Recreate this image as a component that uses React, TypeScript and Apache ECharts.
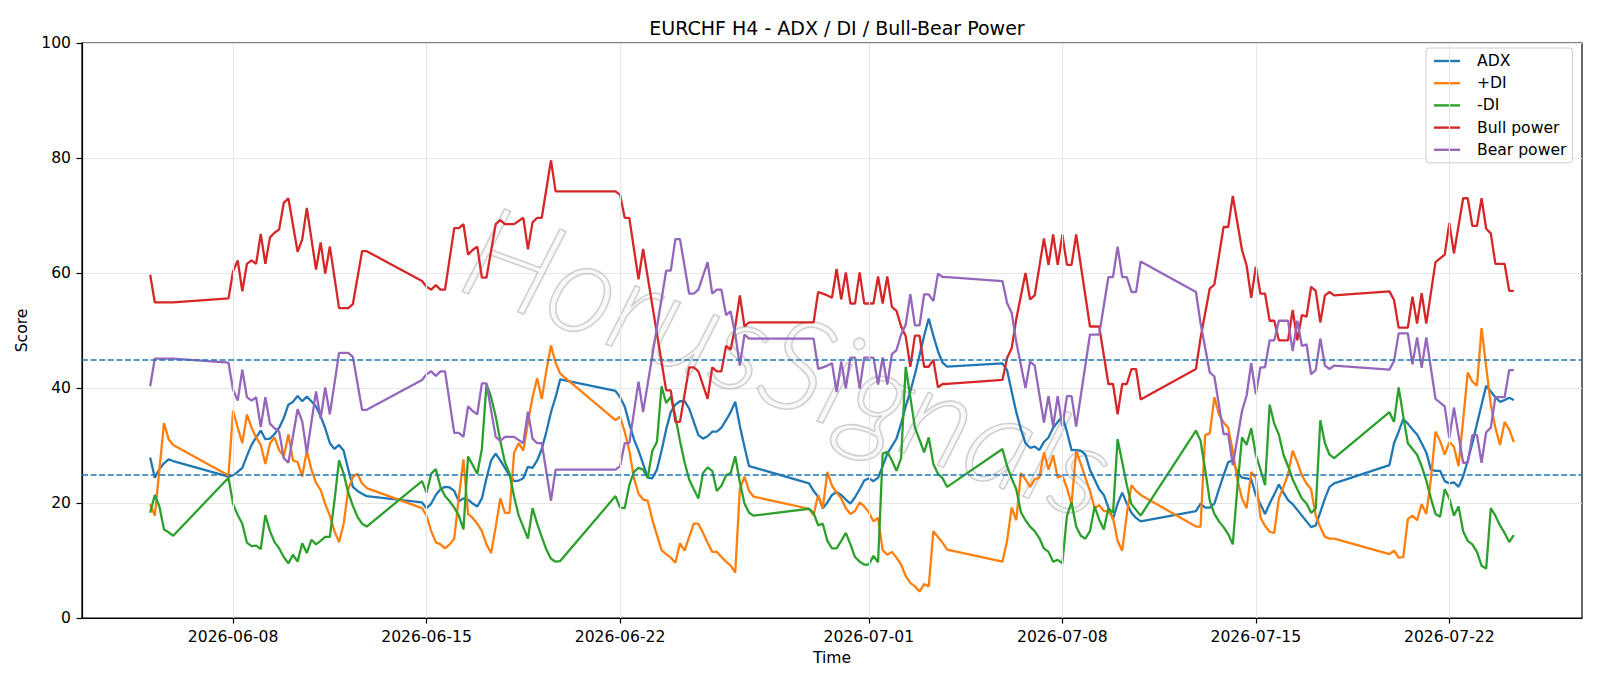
import React, { useEffect, useRef } from 'react';
import * as echarts from 'echarts';

const TITLE = 'EURCHF H4 - ADX / DI / Bull-Bear Power';
// x values are hours since 2026-06-05 00:00
const tickHours = [72, 240, 408, 624, 792, 960, 1128];
const tickLabels = ['2026-06-08', '2026-06-15', '2026-06-22', '2026-07-01', '2026-07-08', '2026-07-15', '2026-07-22'];
const yTicks = [0, 20, 40, 60, 80, 100];
const thresholds = [25, 45];

const adx = [[0,27.9],[4,24.4],[8,25.9],[12,26.9],[16,27.6],[20,27.3],[68,24.6],[72,24.8],[76,25.4],[80,26.1],[84,28.2],[88,30.1],[92,31.4],[96,32.6],[100,31.1],[104,31.2],[108,32.0],[112,33.1],[116,34.8],[120,37.1],[124,37.6],[128,38.6],[132,37.7],[136,38.5],[140,37.7],[144,36.8],[148,35.1],[152,33.0],[156,30.4],[160,29.4],[164,30.1],[168,29.1],[172,25.8],[176,22.8],[180,22.1],[184,21.6],[188,21.2],[236,20.1],[240,19.1],[244,19.9],[248,21.4],[252,22.4],[256,22.8],[260,22.7],[264,22.1],[268,20.3],[272,20.8],[276,20.6],[280,19.9],[284,19.4],[288,20.8],[292,24.3],[296,27.4],[300,28.6],[304,27.4],[308,26.1],[312,24.8],[316,23.8],[320,23.9],[324,24.3],[328,26.3],[332,26.1],[336,27.4],[340,29.4],[344,32.4],[348,35.8],[352,38.4],[356,41.5],[404,39.5],[408,38.4],[412,36.8],[416,33.8],[420,31.1],[424,29.1],[428,26.8],[432,24.4],[436,24.3],[440,25.8],[444,29.1],[448,32.8],[452,35.8],[456,37.1],[460,37.7],[464,37.7],[468,36.4],[472,34.1],[476,31.8],[480,31.2],[484,31.6],[488,32.4],[492,32.4],[496,33.1],[500,34.4],[504,35.8],[508,37.6],[512,33.4],[516,29.8],[520,26.4],[524,26.2],[572,23.4],[576,22.1],[580,21.1],[584,19.1],[588,20.1],[592,21.4],[596,21.9],[600,21.4],[604,20.6],[608,19.9],[612,21.0],[616,22.4],[620,23.9],[624,24.3],[628,23.8],[632,24.4],[636,26.4],[640,28.6],[644,29.9],[648,31.2],[652,33.8],[656,36.8],[660,39.4],[664,42.4],[668,45.7],[672,49.1],[676,52.1],[680,49.1],[684,46.4],[688,44.4],[692,43.7],[740,44.3],[744,43.1],[748,39.4],[752,35.8],[756,32.8],[760,30.4],[764,29.6],[768,29.8],[772,29.2],[776,30.6],[780,31.4],[784,33.1],[788,34.1],[792,35.1],[796,32.4],[800,29.2],[804,29.2],[808,29.1],[812,28.4],[816,25.8],[820,24.1],[824,22.4],[828,21.4],[832,19.2],[836,17.2],[840,19.9],[844,21.8],[848,19.9],[852,18.3],[856,17.4],[860,16.8],[908,18.6],[912,19.9],[916,19.2],[920,19.2],[924,19.9],[928,22.4],[932,24.8],[936,27.1],[940,27.4],[944,25.4],[948,24.4],[952,24.3],[956,24.1],[960,21.4],[964,19.8],[968,18.1],[972,19.9],[976,21.5],[980,23.2],[984,21.8],[988,20.5],[992,19.8],[996,18.8],[1000,17.8],[1004,16.8],[1008,15.8],[1012,16.1],[1016,18.4],[1020,20.8],[1024,22.8],[1028,23.4],[1076,26.6],[1080,30.4],[1084,32.4],[1088,34.6],[1092,33.8],[1096,32.8],[1100,31.9],[1104,30.4],[1108,28.8],[1112,25.8],[1116,25.6],[1120,25.6],[1124,23.8],[1128,23.4],[1132,23.6],[1136,22.8],[1140,24.6],[1144,27.4],[1148,30.4],[1152,33.8],[1156,37.1],[1160,40.4],[1164,39.4],[1168,38.4],[1172,37.6],[1176,37.9],[1180,38.3],[1184,37.9]];

const plusDI = [[0,19.8],[4,17.8],[8,25.8],[12,33.9],[16,31.1],[20,30.1],[68,24.8],[72,36.1],[76,33.1],[80,30.4],[84,35.4],[88,33.1],[92,31.4],[96,30.1],[100,26.8],[104,30.4],[108,31.4],[112,29.2],[116,28.1],[120,31.9],[124,27.4],[128,27.1],[132,24.6],[136,29.1],[140,25.8],[144,23.5],[148,22.3],[152,19.8],[156,17.8],[160,15.1],[164,13.2],[168,16.4],[172,22.4],[176,24.5],[180,25.1],[184,23.4],[188,22.6],[236,19.1],[240,17.8],[244,15.1],[248,13.2],[252,12.8],[256,12.1],[260,12.8],[264,13.8],[268,21.0],[272,27.6],[276,18.1],[280,17.4],[284,16.4],[288,15.1],[292,12.8],[296,11.3],[300,15.8],[304,20.8],[308,18.3],[312,18.3],[316,28.8],[320,30.4],[324,29.1],[328,34.0],[332,38.4],[336,41.7],[340,38.1],[344,43.0],[348,47.4],[352,44.4],[356,42.5],[404,34.4],[408,35.0],[412,32.4],[416,29.1],[420,24.4],[424,21.6],[428,20.6],[432,20.4],[436,17.1],[440,14.4],[444,11.8],[448,11.1],[452,10.5],[456,9.6],[460,13.0],[464,11.7],[468,14.1],[472,16.4],[476,16.4],[480,14.8],[484,13.1],[488,11.5],[492,11.5],[496,10.6],[500,9.8],[504,9.1],[508,7.9],[512,22.4],[516,24.6],[520,22.1],[524,21.1],[572,19.0],[576,17.9],[580,21.4],[584,19.1],[588,25.4],[592,23.0],[596,21.8],[600,20.8],[604,19.1],[608,18.1],[612,18.6],[616,20.1],[620,19.4],[624,18.4],[628,16.8],[632,17.4],[636,11.8],[640,11.0],[644,11.5],[648,10.5],[652,9.3],[656,7.3],[660,6.1],[664,5.5],[668,4.6],[672,5.9],[676,5.5],[680,15.1],[684,14.1],[688,13.1],[692,11.9],[740,9.8],[744,13.4],[748,19.2],[752,17.0],[756,25.2],[760,24.1],[764,22.8],[768,24.1],[772,24.4],[776,28.8],[780,25.8],[784,28.3],[788,24.4],[792,24.8],[796,22.6],[800,19.8],[804,29.1],[808,26.8],[812,24.4],[816,22.1],[820,19.1],[824,19.6],[828,18.6],[832,18.6],[836,17.4],[840,13.4],[844,11.7],[848,18.1],[852,23.1],[856,22.1],[860,21.4],[908,15.9],[912,15.9],[916,31.8],[920,32.1],[924,38.4],[928,35.4],[932,34.0],[936,33.1],[940,29.0],[944,24.0],[948,20.8],[952,19.1],[956,25.4],[960,24.4],[964,17.5],[968,16.0],[972,15.0],[976,14.8],[980,20.8],[984,22.8],[988,25.0],[992,29.1],[996,27.1],[1000,24.8],[1004,23.4],[1008,22.4],[1012,17.8],[1016,15.8],[1020,14.1],[1024,13.8],[1028,13.8],[1076,11.1],[1080,11.7],[1084,10.5],[1088,10.6],[1092,17.2],[1096,17.8],[1100,17.0],[1104,19.8],[1108,18.1],[1112,24.1],[1116,32.4],[1120,30.8],[1124,28.4],[1128,30.6],[1132,29.8],[1136,26.4],[1140,34.4],[1144,42.7],[1148,41.1],[1152,40.4],[1156,50.4],[1160,43.7],[1164,37.1],[1168,33.1],[1172,30.1],[1176,34.1],[1180,32.8],[1184,30.6]];

const minusDI = [[0,18.3],[4,21.4],[8,19.4],[12,15.4],[16,14.9],[20,14.3],[68,24.4],[72,19.8],[76,17.9],[80,16.4],[84,13.1],[88,12.5],[92,12.6],[96,12.0],[100,17.9],[104,15.1],[108,13.2],[112,12.1],[116,10.6],[120,9.5],[124,11.0],[128,9.8],[132,13.0],[136,11.3],[140,13.6],[144,12.8],[148,13.4],[152,14.1],[156,14.1],[160,20.4],[164,27.4],[168,25.1],[172,21.8],[176,19.5],[180,17.6],[184,16.4],[188,15.9],[236,23.8],[240,21.8],[244,25.1],[248,25.9],[252,22.8],[256,21.2],[260,20.3],[264,19.2],[268,17.8],[272,15.4],[276,28.1],[280,26.6],[284,25.1],[288,29.4],[292,40.7],[296,38.4],[300,35.1],[304,30.8],[308,27.1],[312,25.1],[316,21.1],[320,17.8],[324,15.8],[328,13.8],[332,19.1],[336,16.4],[340,14.1],[344,11.9],[348,10.3],[352,9.8],[356,9.9],[404,21.2],[408,19.2],[412,19.1],[416,23.1],[420,25.4],[424,26.1],[428,25.8],[432,24.4],[436,29.1],[440,30.6],[444,40.3],[448,37.4],[452,38.5],[456,35.1],[460,30.8],[464,27.1],[468,24.1],[472,22.4],[476,20.8],[480,25.2],[484,26.2],[488,25.6],[492,22.1],[496,23.0],[500,24.8],[504,25.2],[508,28.1],[512,23.6],[516,19.9],[520,18.3],[524,17.8],[572,19.0],[576,18.3],[580,16.1],[584,16.4],[588,13.4],[592,12.1],[596,12.1],[600,13.4],[604,14.8],[608,12.8],[612,10.6],[616,9.8],[620,9.3],[624,9.3],[628,10.8],[632,9.7],[636,28.6],[640,28.9],[644,27.4],[648,25.6],[652,27.8],[656,43.7],[660,38.4],[664,33.1],[668,31.0],[672,28.8],[676,31.4],[680,26.8],[684,25.1],[688,24.3],[692,22.8],[740,29.4],[744,26.4],[748,24.3],[752,22.4],[756,18.4],[760,17.0],[764,15.9],[768,15.1],[772,13.9],[776,12.1],[780,11.5],[784,9.8],[788,10.1],[792,9.5],[796,17.8],[800,20.1],[804,15.9],[808,14.3],[812,13.8],[816,15.1],[820,19.4],[824,17.1],[828,15.4],[832,19.1],[836,18.3],[840,31.1],[844,27.1],[848,23.1],[852,19.8],[856,18.8],[860,17.8],[908,32.6],[912,30.8],[916,25.8],[920,20.4],[924,18.1],[928,16.8],[932,15.8],[936,14.6],[940,12.8],[944,22.8],[948,31.4],[952,30.1],[956,33.0],[960,28.4],[964,25.8],[968,23.1],[972,37.1],[976,33.8],[980,31.9],[984,28.4],[988,26.4],[992,24.1],[996,22.4],[1000,20.8],[1004,19.9],[1008,18.3],[1012,19.0],[1016,34.4],[1020,30.4],[1024,28.4],[1028,27.8],[1076,35.8],[1080,34.1],[1084,40.1],[1088,35.1],[1092,30.4],[1096,29.4],[1100,28.4],[1104,26.4],[1108,23.9],[1112,20.8],[1116,18.1],[1120,17.6],[1124,22.4],[1128,20.8],[1132,17.8],[1136,19.4],[1140,15.1],[1144,13.4],[1148,12.8],[1152,11.5],[1156,9.1],[1160,8.6],[1164,19.1],[1168,17.8],[1172,16.1],[1176,14.8],[1180,13.2],[1184,14.4]];

const bullPower = [[0,59.7],[4,54.9],[20,54.9],[68,55.6],[72,60.3],[76,62.2],[80,56.8],[84,61.6],[88,62.2],[92,61.6],[96,66.8],[100,61.6],[104,66.2],[108,67.0],[112,67.6],[116,72.2],[120,73.0],[128,63.7],[132,65.8],[136,71.3],[144,60.6],[148,65.3],[152,59.9],[156,64.6],[164,53.9],[172,53.9],[176,54.6],[184,63.8],[188,63.8],[236,58.6],[240,57.6],[244,57.1],[248,57.9],[252,57.1],[256,57.1],[264,67.8],[268,67.8],[272,68.5],[276,63.2],[280,64.0],[284,64.6],[288,59.2],[292,59.2],[300,68.5],[304,69.2],[308,68.5],[316,68.5],[324,69.6],[328,64.1],[332,68.8],[336,69.6],[340,69.6],[348,79.6],[352,74.2],[404,74.2],[408,73.6],[412,69.6],[416,69.6],[424,58.9],[428,64.2],[448,39.6],[452,39.6],[456,34.1],[460,34.1],[468,43.6],[472,43.6],[476,42.9],[484,38.1],[488,43.6],[492,42.9],[496,42.9],[500,47.3],[504,46.7],[508,50.7],[512,56.1],[516,50.7],[520,51.4],[576,51.4],[580,56.7],[584,56.4],[588,56.1],[592,55.7],[596,60.7],[600,55.4],[604,60.1],[608,54.7],[612,54.7],[616,60.1],[620,54.7],[624,54.7],[628,54.7],[632,59.4],[636,54.7],[640,59.4],[644,54.1],[648,53.4],[652,50.7],[656,49.0],[660,43.7],[664,49.1],[668,49.1],[672,43.7],[676,43.7],[680,44.9],[684,40.1],[688,40.7],[692,40.7],[740,41.4],[744,45.2],[748,46.9],[752,52.0],[756,56.0],[760,60.0],[764,55.4],[768,56.1],[776,66.0],[780,61.4],[784,66.7],[788,61.4],[792,66.7],[796,61.4],[800,61.4],[804,66.7],[816,50.7],[824,50.7],[832,40.7],[836,40.7],[840,35.4],[844,40.7],[848,40.7],[852,43.3],[856,43.3],[860,38.0],[908,43.3],[912,48.7],[920,57.3],[924,58.0],[932,68.0],[936,68.0],[940,73.4],[948,64.0],[952,61.3],[956,55.7],[960,61.1],[964,56.4],[968,56.4],[972,51.7],[976,51.7],[980,48.3],[988,48.3],[992,53.6],[996,48.3],[1000,52.7],[1004,52.4],[1008,57.6],[1012,56.9],[1016,51.4],[1020,56.1],[1024,56.7],[1028,56.1],[1076,56.8],[1080,55.3],[1084,50.5],[1092,50.5],[1096,55.9],[1100,51.2],[1104,56.5],[1108,51.2],[1116,61.9],[1124,63.2],[1128,68.7],[1132,63.4],[1140,73.0],[1144,73.0],[1148,68.2],[1152,68.2],[1156,73.0],[1160,67.7],[1164,66.9],[1168,61.6],[1176,61.6],[1180,56.9],[1184,56.9]];

const bearPower = [[0,40.3],[4,45.1],[20,45.1],[68,44.4],[72,39.7],[76,37.8],[80,43.2],[84,38.4],[88,37.8],[92,38.4],[96,33.2],[100,38.4],[104,33.8],[108,33.0],[112,32.4],[116,27.8],[120,27.0],[128,36.3],[132,34.2],[136,28.7],[144,39.4],[148,34.7],[152,40.1],[156,35.4],[164,46.1],[172,46.1],[176,45.4],[184,36.2],[188,36.2],[236,41.4],[240,42.4],[244,42.9],[248,42.1],[252,42.9],[256,42.9],[264,32.2],[268,32.2],[272,31.5],[276,36.8],[280,36.0],[284,35.4],[288,40.8],[292,40.8],[300,31.5],[304,30.8],[308,31.5],[316,31.5],[324,30.4],[328,35.9],[332,31.2],[336,30.4],[340,30.4],[348,20.4],[352,25.8],[404,25.8],[408,26.4],[412,30.4],[416,30.4],[424,41.1],[428,35.8],[448,60.4],[452,60.4],[456,65.9],[460,65.9],[468,56.4],[472,56.4],[476,57.1],[484,61.9],[488,56.4],[492,57.1],[496,57.1],[500,52.7],[504,53.3],[508,49.3],[512,43.9],[516,49.3],[520,48.6],[576,48.6],[580,43.3],[584,43.6],[588,43.9],[592,44.3],[596,39.3],[600,44.6],[604,39.9],[608,45.3],[612,45.3],[616,39.9],[620,45.3],[624,45.3],[628,45.3],[632,40.6],[636,45.3],[640,40.6],[644,45.9],[648,46.6],[652,49.3],[656,51.0],[660,56.3],[664,50.9],[668,50.9],[672,56.3],[676,56.3],[680,55.1],[684,59.9],[688,59.3],[692,59.3],[740,58.6],[744,54.8],[748,53.1],[752,48.0],[756,44.0],[760,40.0],[764,44.6],[768,43.9],[776,34.0],[780,38.6],[784,33.3],[788,38.6],[792,33.3],[796,38.6],[800,38.6],[804,33.3],[816,49.3],[824,49.3],[832,59.3],[836,59.3],[840,64.6],[844,59.3],[848,59.3],[852,56.7],[856,56.7],[860,62.0],[908,56.7],[912,51.3],[920,42.7],[924,42.0],[932,32.0],[936,32.0],[940,26.6],[948,36.0],[952,38.7],[956,44.3],[960,38.9],[964,43.6],[968,43.6],[972,48.3],[976,48.3],[980,51.7],[988,51.7],[992,46.4],[996,51.7],[1000,47.3],[1004,47.6],[1008,42.4],[1012,43.1],[1016,48.6],[1020,43.9],[1024,43.3],[1028,43.9],[1076,43.2],[1080,44.7],[1084,49.5],[1092,49.5],[1096,44.1],[1100,48.8],[1104,43.5],[1108,48.8],[1116,38.1],[1124,36.8],[1128,31.3],[1132,36.6],[1140,27.0],[1144,27.0],[1148,31.8],[1152,31.8],[1156,27.0],[1160,32.3],[1164,33.1],[1168,38.4],[1176,38.4],[1180,43.1],[1184,43.1]];

const seriesDefs = [
  { name: 'ADX', data: adx, color: '#1f77b4' },
  { name: '+DI', data: plusDI, color: '#ff7f0e' },
  { name: '-DI', data: minusDI, color: '#2ca02c' },
  { name: 'Bull power', data: bullPower, color: '#d62728' },
  { name: 'Bear power', data: bearPower, color: '#9467bd' },
];

const FONT = 'DejaVu Sans';

export default function App() {
  const ref = useRef<HTMLDivElement>(null);
  useEffect(() => {
    if (!ref.current) return;
    const chart = echarts.init(ref.current, null, { renderer: 'svg' });
    const lines = seriesDefs.map((s) => ({
      name: s.name,
      type: 'line',
      data: s.data,
      symbol: 'none',
      showSymbol: false,
      lineStyle: { color: s.color, width: 2.3 },
      itemStyle: { color: s.color },
      z: 3,
    }));
    chart.setOption({
      animation: false,
      backgroundColor: '#ffffff',
      title: {
        text: TITLE,
        left: 832,
        textAlign: 'center',
        top: 13,
        textStyle: { fontFamily: FONT, fontSize: 19, fontWeight: 'normal', color: '#000' },
      },
      legend: {
        data: seriesDefs.map((s) => s.name),
        orient: 'vertical',
        left: 1426,
        top: 48,
        icon: 'rect',
        itemWidth: 26,
        itemHeight: 2.4,
        itemGap: 4.2,
        padding: [4, 6, 4, 8],
        backgroundColor: 'rgba(255,255,255,0.8)',
        borderColor: '#cccccc',
        borderWidth: 1,
        borderRadius: 3,
        textStyle: { fontFamily: FONT, fontSize: 15.6, color: '#000', lineHeight: 18, padding: [0, 0, 0, 12] },
      },
      grid: {
        left: 82,
        top: 43,
        width: 1500,
        height: 575,
        show: true,
        borderColor: '#000',
        borderWidth: 1.2,
        backgroundColor: 'transparent',
      },
      xAxis: {
        type: 'value',
        min: -59.2,
        max: 1243.2,
        name: 'Time',
        nameLocation: 'middle',
        nameGap: 30,
        nameTextStyle: { fontFamily: FONT, fontSize: 15.6, color: '#000' },
        axisLine: { show: true, onZero: false, lineStyle: { color: '#000', width: 1.2 } },
        axisTick: { show: true, customValues: tickHours, length: 5.5, lineStyle: { color: '#000', width: 1.2 } },
        axisLabel: {
          customValues: tickHours,
          margin: 11,
          fontFamily: FONT,
          fontSize: 15.6,
          color: '#000',
          formatter: (v: number) => {
            const i = tickHours.indexOf(Math.round(v));
            return i >= 0 ? tickLabels[i] : '';
          },
        },
        splitLine: { show: false },
      },
      yAxis: {
        type: 'value',
        min: 0,
        max: 100,
        interval: 20,
        name: 'Score',
        nameLocation: 'middle',
        nameGap: 47,
        nameRotate: 90,
        nameTextStyle: { fontFamily: FONT, fontSize: 15.6, color: '#000' },
        axisLine: { show: true, onZero: false, lineStyle: { color: '#000', width: 1.2 } },
        axisTick: { show: true, length: 5.5, lineStyle: { color: '#000', width: 1.2 } },
        axisLabel: { margin: 11, fontFamily: FONT, fontSize: 15.6, color: '#000', formatter: (v: number) => (yTicks.includes(v) ? String(v) : '') },
        splitLine: { show: true, lineStyle: { color: '#e6e6e6', width: 1.2 } },
      },
      graphic: [
        {
          type: 'text',
          x: 790,
          y: 358,
          rotation: -0.35,
          z: 1,
          silent: true,
          style: {
            text: 'HorusSignals',
            fontSize: 130,
            fontFamily: 'Lato',
            fontWeight: 300,
            fontStyle: 'italic',
            fill: 'rgba(235,235,235,0.3)',
            stroke: 'rgba(140,140,140,0.45)',
            lineWidth: 1.6,
            align: 'center',
            verticalAlign: 'middle',
          },
        },
      ],
      series: [
        {
          name: 'xgrid',
          type: 'line',
          data: [],
          z: 1,
          silent: true,
          markLine: {
            silent: true,
            symbol: ['none', 'none'],
            label: { show: false },
            lineStyle: { color: '#e6e6e6', width: 1.2, type: 'solid' },
            data: tickHours.map((h) => ({ xAxis: h })),
          },
        },
        ...lines,
        {
          name: 'thresholds',
          type: 'line',
          data: [],
          z: 4,
          silent: true,
          markLine: {
            silent: true,
            symbol: ['none', 'none'],
            label: { show: false },
            lineStyle: { color: '#1f77b4', width: 1.6, type: [6, 2.6] },
            data: thresholds.map((v) => ({ yAxis: v })),
          },
        },
      ],
    });
    return () => chart.dispose();
  }, []);
  return (
    <div
      ref={ref}
      style={{ position: 'fixed', left: 0, top: 0, width: 1600, height: 686, background: '#fff' }}
    />
  );
}
